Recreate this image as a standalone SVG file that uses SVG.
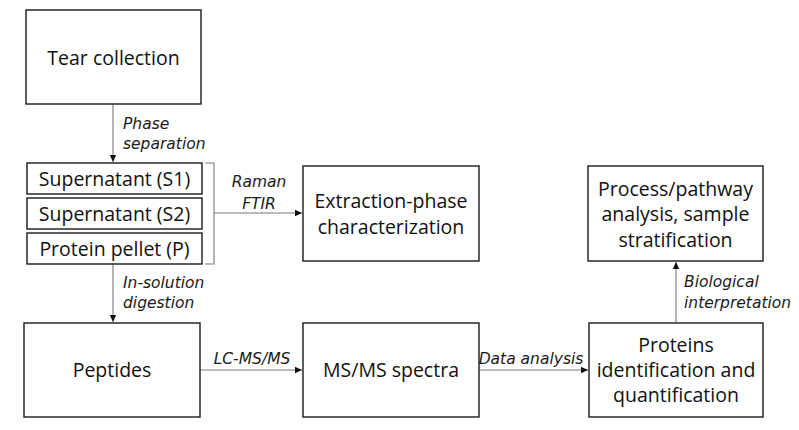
<svg xmlns="http://www.w3.org/2000/svg" width="799" height="430" viewBox="0 0 799 430">
<defs>
<style>
.box{fill:#fff;stroke:#1a1a1a;stroke-width:1.4}
.t{font-family:"Open Sans","Noto Sans",sans-serif;font-size:19.5px;fill:#111;text-anchor:middle}
.l{font-family:"DejaVu Sans","Liberation Sans",sans-serif;font-style:italic;font-size:15.5px;fill:#1a1a1a}
.c{stroke:#7a7a7a;stroke-width:1.1;fill:none}
</style>
<marker id="ah" markerUnits="userSpaceOnUse" markerWidth="8" markerHeight="8" viewBox="0 0 8 8" refX="7" refY="4" orient="auto">
<path d="M0,0.8 L7,4 L0,7.2 Z" fill="#111"/>
</marker>
</defs>
<rect width="799" height="430" fill="#fff"/>
<g id="connectors">
<line class="c" x1="113" y1="104" x2="113" y2="162" marker-end="url(#ah)"/>
<path class="c" d="M205,163 H214 V264 H205"/>
<line class="c" x1="214" y1="213" x2="302" y2="213" marker-end="url(#ah)"/>
<line class="c" x1="113" y1="264" x2="113" y2="322" marker-end="url(#ah)"/>
<line class="c" x1="200" y1="370" x2="302" y2="370" marker-end="url(#ah)"/>
<line class="c" x1="479" y1="370" x2="588" y2="370" marker-end="url(#ah)"/>
<line class="c" x1="676" y1="323" x2="676" y2="262" marker-end="url(#ah)"/>
<text class="l" x="123" y="129">Phase</text>
<text class="l" x="123" y="149">separation</text>
<text class="l" x="259" y="187" text-anchor="middle">Raman</text>
<text class="l" x="259" y="209" text-anchor="middle">FTIR</text>
<text class="l" x="123" y="288">In-solution</text>
<text class="l" x="123" y="308">digestion</text>
<text class="l" x="252" y="364" text-anchor="middle">LC-MS/MS</text>
<text class="l" x="531" y="364" text-anchor="middle">Data analysis</text>
<text class="l" x="684" y="287">Biological</text>
<text class="l" x="684" y="308">interpretation</text>
</g>
<g id="tear">
<rect class="box" x="26" y="10" width="175" height="94"/>
<text class="t" x="113.5" y="64.5">Tear collection</text>
</g>
<g id="s1">
<rect class="box" x="27" y="163" width="175" height="31"/>
<text class="t" x="114.5" y="186">Supernatant (S1)</text>
</g>
<g id="s2">
<rect class="box" x="27" y="198" width="175" height="31"/>
<text class="t" x="114.5" y="221">Supernatant (S2)</text>
</g>
<g id="pellet">
<rect class="box" x="27" y="233" width="175" height="31"/>
<text class="t" x="114.5" y="256">Protein pellet (P)</text>
</g>
<g id="extraction">
<rect class="box" x="303" y="166" width="176" height="95"/>
<text class="t" x="391" y="208">Extraction-phase</text>
<text class="t" x="391" y="233.5">characterization</text>
</g>
<g id="peptides">
<rect class="box" x="24" y="323" width="176" height="94"/>
<text class="t" x="112" y="377">Peptides</text>
</g>
<g id="msms">
<rect class="box" x="303" y="323" width="176" height="94"/>
<text class="t" x="391" y="377">MS/MS spectra</text>
</g>
<g id="proteins">
<rect class="box" x="589" y="323" width="174" height="94"/>
<text class="t" x="676" y="352">Proteins</text>
<text class="t" x="676" y="377">identification and</text>
<text class="t" x="676" y="402">quantification</text>
</g>
<g id="process">
<rect class="box" x="588" y="166" width="175" height="95"/>
<text class="t" x="675.5" y="195.5">Process/pathway</text>
<text class="t" x="675.5" y="221">analysis, sample</text>
<text class="t" x="675.5" y="246.5">stratification</text>
</g>
</svg>
